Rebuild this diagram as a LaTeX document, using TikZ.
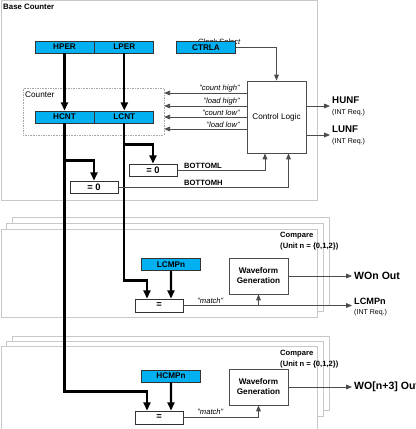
\documentclass[tikz,border=0pt]{standalone}
\usepackage{fontspec}
\setmainfont{Liberation Sans}
\usetikzlibrary{arrows.meta}
\usetikzlibrary{positioning}
\definecolor{regblue}{RGB}{0,176,240}
\definecolor{framegray}{RGB}{200,200,200}

\tikzset{
  reg/.style={draw=black!80, fill=regblue, line width=0.7pt, minimum width=1.77cm, minimum height=0.36cm, inner sep=0pt, font=\bfseries\fontsize{7}{8}\selectfont},
  logic/.style={draw=black!70, fill=white, line width=0.7pt, inner sep=0pt, align=center, minimum width=1.77cm},
  cmpbox/.style={draw=black!80, fill=white, line width=0.7pt, minimum width=1.44cm, minimum height=0.36cm, inner sep=0pt, font=\bfseries\fontsize{8}{9}\selectfont},
  bus/.style={line width=2pt, -{Triangle[width=6pt,length=7pt]}},
  sig/.style={draw=black!70, line width=0.7pt, -{Triangle[width=4pt,length=5pt]}},
  frame/.style={draw=framegray, line width=0.7pt, fill=white},
  siglab/.style={font=\itshape\fontsize{6.5}{7}\selectfont, inner sep=1pt},
  outlab/.style={font=\bfseries\fontsize{9}{10}\selectfont, inner sep=0pt, anchor=west},
  reqlab/.style={font=\fontsize{6}{7}\selectfont, inner sep=0pt, anchor=west},
  boldlab/.style={font=\bfseries\fontsize{6.5}{7.5}\selectfont, inner sep=0pt}
}

\begin{document}
\begin{tikzpicture}[x=0.03cm, y=-0.03cm]
  \clip (0,0) rectangle (415,429);

  % Frames
  \draw[frame] (1,0.5) rectangle (317,200);
  \draw[frame] (12,217) rectangle (329,305);
  \draw[frame] (6,223) rectangle (323,311);
  \draw[frame] (1,229) rectangle (317,317);
  \draw[frame] (12,336) rectangle (329,410);
  \draw[frame] (6,341) rectangle (323,416);
  \draw[frame] (1,346) rectangle (317,440);

  \node[anchor=north west, inner sep=0pt, font=\bfseries\fontsize{6.7}{8}\selectfont] (basetitle) at (3,3.5) {Base Counter};
  \node[boldlab, anchor=north west, align=left, font=\bfseries\fontsize{6.5}{9.2}\selectfont] (cmptitle1) at (280,232) {Compare\\(Unit n = \{0,1,2\})};
  \node[boldlab, anchor=north west, align=left, font=\bfseries\fontsize{6.5}{9.2}\selectfont] (cmptitle2) at (280,350) {Compare\\(Unit n = \{0,1,2\})};

  % Counter
  \node[draw=black!35, densely dotted, minimum width=4.23cm, minimum height=1.41cm, inner sep=0pt] (counter) at (93.5,111.5) {};
  \node[anchor=north west, inner sep=0pt, font=\fontsize{7}{8}\selectfont] (countertitle) at (25,91.5) {Counter};

  % Registers
  \node[reg] (hper) at (64.5,47) {HPER};
  \node[reg, right=0pt of hper] (lper) {LPER};
  \node[siglab] (clksel) at (219,42) {Clock Select};
  \node[reg] (ctrla) at (206,47.5) {CTRLA};
  \node[reg] (hcnt) at (64.5,117) {HCNT};
  \node[reg, right=0pt of hcnt] (lcnt) {LCNT};
  \node[logic, minimum height=2.16cm, font=\fontsize{7}{8}\selectfont] (ctrl) at (276.5,117) {Control Logic};
  \node[cmpbox] (zeroL) at (153,170) {= 0};
  \node[cmpbox] (zeroH) at (94,187) {= 0};

  % Compare units
  \node[reg] (lcmp) at (171,264.5) {LCMPn};
  \node[cmpbox, minimum height=0.39cm] (eqL) at (159,305.5) {=};
  \node[logic, minimum height=1.08cm, font=\bfseries\fontsize{7}{8.5}\selectfont] (wave) at (258.5,276) {Waveform\\Generation};
  \node[reg] (hcmp) at (171,376) {HCMPn};
  \node[cmpbox, minimum height=0.39cm] (eqH) at (159,417.5) {=};
  \node[logic, minimum height=1.08cm, font=\bfseries\fontsize{7}{8.5}\selectfont] (wave2) at (258.5,387) {Waveform\\Generation};

  % Data paths
  \draw[bus] (hper) -- (hcnt);
  \draw[bus] (lper) -- (lcnt);
  \draw[bus] (hcnt.south) -- ++(0,37) -| (zeroH.north);
  \draw[bus] (lcnt.south) -- ++(0,21) -| (zeroL.north);
  \draw[bus] (lcnt.south) -- ++(0,157) -| ([xshift=-0.36cm]eqL.north);
  \draw[bus] (hcnt.south) -- ++(0,268) -| ([xshift=-0.36cm]eqH.north);
  \draw[bus] (lcmp.south) -- ([xshift=0.36cm]eqL.north);
  \draw[bus] (hcmp.south) -- ([xshift=0.36cm]eqH.north);

  % Control signals
  \draw[sig] (ctrla.east) -| (ctrl.north);
  \foreach \yy/\txt in {93/count high,106/load high,117/count low,129/load low}{
    \draw[sig] (ctrl.west |- 0,\yy) -- (counter.east |- 0,\yy);
    \node[siglab, anchor=south east] (lab\yy) at (241,\yy) {"\txt"};
  }
  \draw[sig] (zeroL.east) -| ([xshift=-0.345cm]ctrl.south);
  \draw[sig] (zeroH.east) -| ([xshift=0.36cm]ctrl.south);
  \node[boldlab, anchor=south west] (botl) at (184,168.5) {BOTTOML};
  \node[boldlab, anchor=south west] (both) at (184,185.5) {BOTTOMH};

  % Interrupts
  \coordinate (hunf) at (330,106);
  \coordinate (lunf) at (330,135);
  \draw[sig] (ctrl.east |- hunf) -- (hunf);
  \draw[sig] (ctrl.east |- lunf) -- (lunf);
  \node[outlab, font=\bfseries\fontsize{8.3}{9}\selectfont] (hunflab) at (332,100.5) {HUNF};
  \node[reqlab] (hunfreq) at (332,112.5) {(INT Req.)};
  \node[outlab, font=\bfseries\fontsize{8.3}{9}\selectfont] (lunflab) at (332,129.5) {LUNF};
  \node[reqlab] (lunfreq) at (332,142) {(INT Req.)};

  % Match and outputs
  \coordinate (lcmpout) at (352,305.5);
  \coordinate (woout) at (352,276);
  \coordinate (wo3out) at (352,387);
  \draw[sig] (eqL.east) -- (lcmpout);
  \draw[sig] (wave.south |- eqL.east) -- (wave.south);
  \draw[sig] (eqH.east) -| (wave2.south);
  \draw[sig] (wave.east) -- (woout);
  \draw[sig] (wave2.east) -- (wo3out);
  \node[siglab, anchor=south west] (match1) at (196,304.5) {"match"};
  \node[siglab, anchor=south west] (match2) at (196,416) {"match"};
  \node[outlab] (wolab) at (354,276) {WOn Out};
  \node[outlab, font=\bfseries\fontsize{7.8}{9}\selectfont] (lcmplab) at (354,301) {LCMPn};
  \node[reqlab] (lcmpreq) at (354,313) {(INT Req.)};
  \node[outlab] (wo3lab) at (354,387) {WO[n+3] Out};
\end{tikzpicture}
\end{document}
